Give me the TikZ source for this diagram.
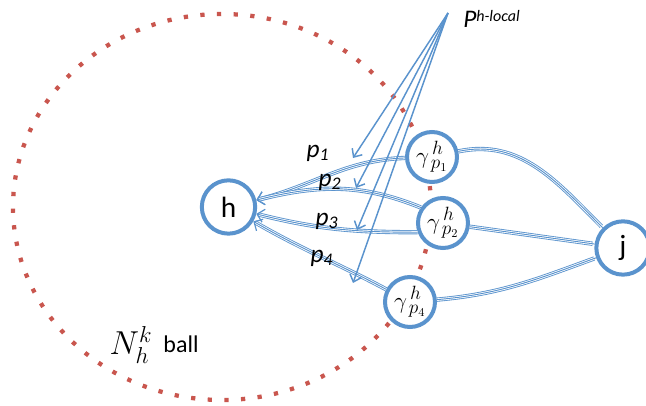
\documentclass[tikz,border=0pt]{standalone}
\usepackage{fontspec}
\setsansfont{Carlito}
\usetikzlibrary{arrows.meta}
\definecolor{mb}{HTML}{5A93CD}
\definecolor{md}{HTML}{C9564E}
\tikzset{
  ring/.style={circle,draw=mb,line width=3pt,fill=white,inner sep=0pt},
  bignode/.style={ring,minimum size=40pt,font=\sffamily\fontsize{22}{24}\selectfont},
  gnode/.style={ring,minimum size=37.5pt,font=\fontsize{19}{21}\selectfont},
  tri/.style={preaction={draw=mb,line width=3.2pt,arrows=-,shorten >=1.5pt},
              preaction={draw=white,line width=1.9pt,arrows=-,shorten >=1.5pt},
              draw=mb,line width=0.7pt},
  triarrow/.style={tri,-{Straight Barb[length=5pt,width=10pt,line width=0.9pt]}},
  parrow/.style={draw=mb,line width=1.1pt,-{Straight Barb[length=5pt,width=9pt]}},
  plabel/.style={font=\sffamily\itshape\fontsize{19}{21}\selectfont,inner sep=0pt},
}
\begin{document}
\begin{tikzpicture}[x=0.75pt,y=0.75pt]
\useasboundingbox (0,0) rectangle (646,406);
% ball
\draw[md,line width=3.2pt,dash pattern=on 3.2pt off 9.3pt] (222,199) ellipse [x radius=209,y radius=193];
% nodes
\node[bignode] (h) at (228.5,199) {h};
\node[bignode] (j) at (623,158) {j};
\node[gnode] (g1) at (432,249) {$\gamma^{\,h}_{\,p_1}$};
\node[gnode] (g2) at (443,183) {$\gamma^{\,h}_{\,p_2}$};
\node[gnode] (g4) at (410,104) {$\gamma^{\,h}_{\,p_4}$};
% edges to h
\draw[triarrow] (g1) to[out=182,in=14] (h);
\draw[triarrow] (g2.145) to[out=158,in=14] (h);
\draw[triarrow] (g2.200) to[out=180,in=-14] (h);
\draw[triarrow] (g4) to[out=152,in=-30] (h);
% edges to j
\draw[tri] (g1) to[out=12,in=135] (j);
\draw[tri] (g2) -- (j);
\draw[tri] (g4) to[out=5,in=200] (j);
% labels
\node[plabel] (l1) at (318,253) {p\textsubscript{1}};
\node[plabel] (l2) at (330,224) {p\textsubscript{2}};
\node[plabel] (l3) at (327,185) {p\textsubscript{3}};
\node[plabel] (l4) at (322,148) {p\textsubscript{4}};
% P h-local
\coordinate (apex) at (448,393);
\node[anchor=west,inner sep=0pt,font=\sffamily\itshape] (P) at (463,387) {{\fontsize{19}{20}\selectfont P}\raisebox{5pt}{\fontsize{12}{13}\selectfont h-local}};
\coordinate (e1) at (353,248);
\coordinate (e2) at (356,218);
\coordinate (e3) at (357,176);
\coordinate (e4) at (353,123);
\draw[parrow] (apex) -- (e1);
\draw[parrow] (apex) -- (e2);
\draw[parrow] (apex) -- (e3);
\draw[parrow] (apex) -- (e4);
% N ball label
\node[inner sep=0pt] (N) at (131,61) {\fontsize{26}{28}\selectfont$N_h^k$};
\node[inner sep=0pt,font=\sffamily\fontsize{18}{20}\selectfont] (ball) at (181,62) {ball};
\end{tikzpicture}
\end{document}
